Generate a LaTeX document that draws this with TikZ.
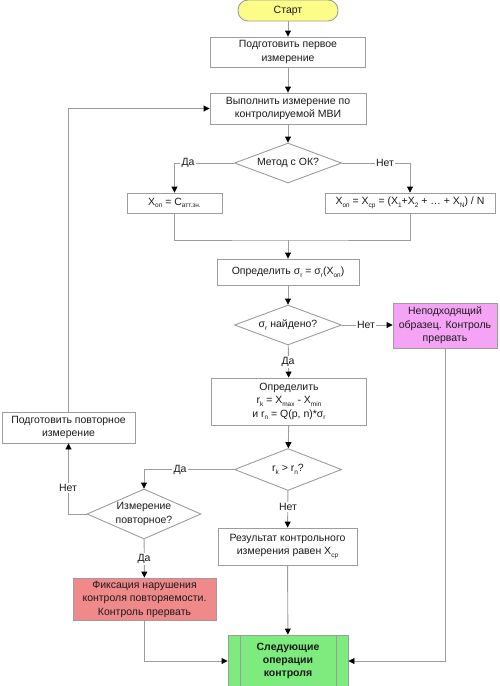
\documentclass[tikz,border=0pt]{standalone}
\usepackage{fontspec}
\setmainfont{Liberation Sans}
\usetikzlibrary{arrows.meta,shapes.geometric,calc}
\definecolor{linec}{HTML}{9C9C9C}
\definecolor{txtc}{HTML}{1A1A1A}
\definecolor{yel}{HTML}{FCFC88}
\definecolor{mag}{HTML}{F5A3F5}
\definecolor{redf}{HTML}{F08A8A}
\definecolor{grn}{HTML}{7DEB7D}
\newcommand\lsub[1]{\raisebox{-0.45ex}{\fontsize{6.5}{6.5}\selectfont #1}}
\tikzset{
  every node/.style={text=txtc},
  stepbox/.style={draw=linec, line width=0.9pt, fill=white, inner sep=0pt, align=center,
    font=\fontsize{10.5}{13.5}\selectfont},
  dia/.style={diamond, draw=linec, line width=0.9pt, fill=white, inner sep=0pt},
  dlab/.style={align=center, font=\fontsize{10.5}{13.5}\selectfont},
  plain/.style={draw=linec, line width=0.9pt},
  conn/.style={draw=linec, line width=0.9pt, -{Triangle[length=6pt,width=6pt,color=black]}},
  lbl/.style={fill=white, inner sep=1.2pt, font=\fontsize{10.5}{12}\selectfont}
}
\begin{document}
\begin{tikzpicture}[x=1pt,y=-1pt]
\useasboundingbox (0,0) rectangle (500,686);
% nodes
\node[stepbox, fill=yel, rounded corners=10pt, minimum width=100, minimum height=21] (start) at (288,10.5) {Старт};
\node[stepbox, minimum width=155, minimum height=30] (b1) at (288,52) {Подготовить первое\\измерение};
\node[stepbox, minimum width=156, minimum height=31] (b2) at (288,108.5) {Выполнить измерение по\\контролируемой МВИ};
\node[dia, minimum width=107, minimum height=40, label={[dlab]center:Метод с ОК?}] (d1) at (288,163) {};
\node[stepbox, minimum width=95, minimum height=20] (bl) at (174.5,203) {X\lsub{оп} = C\lsub{атт.зн.}};
\node[stepbox, minimum width=170, minimum height=20] (br) at (410,203) {X\lsub{оп} = X\lsub{ср} = (X\lsub{1}+X\lsub{2} + … + X\lsub{N}) / N};
\coordinate (m) at (288,240);
\node[stepbox, minimum width=142, minimum height=26] (op1) at (288,272) {Определить σ\lsub{r} = σ\lsub{r}(X\lsub{оп})};
\node[dia, minimum width=107, minimum height=40, label={[dlab]center:σ\lsub{r} найдено?}] (d2) at (288,325) {};
\node[stepbox, fill=mag, minimum width=104, minimum height=45] (mg) at (445,325.5) {Неподходящий\\образец. Контроль\\прервать};
\node[stepbox, minimum width=155, minimum height=47] (op2) at (289,401.5) {Определить\\r\lsub{k} = X\lsub{max} - X\lsub{min}\\и r\lsub{n} = Q(p, n)*σ\lsub{r}};
\node[dia, minimum width=107, minimum height=42, label={[dlab]center:r\lsub{k} > r\lsub{n}?}] (d3) at (288,469.5) {};
\node[stepbox, minimum width=139, minimum height=37] (res) at (287.5,546.5) {Результат контрольного\\измерения равен X\lsub{ср}};
\node[dia, minimum width=114, minimum height=50, label={[dlab]center:Измерение\\повторное?}] (d4) at (144,514) {};
\node[stepbox, minimum width=133, minimum height=31] (prep) at (68.5,427.5) {Подготовить повторное\\измерение};
\node[stepbox, fill=redf, minimum width=143, minimum height=42] (red) at (144.5,599) {Фиксация нарушения\\контроля повторяемости.\\Контроль прервать};
\node[stepbox, fill=grn, minimum width=120, minimum height=52, font=\bfseries\fontsize{10.5}{13}\selectfont] (green) at (288,661) {Следующие\\операции\\контроля};
\draw[plain] ($(green.north west)+(13,0)$) -- ($(green.south west)+(13,0)$);
\draw[plain] ($(green.north east)+(-12,0)$) -- ($(green.south east)+(-12,0)$);
% connectors
\draw[conn] (start) -- (b1);
\draw[conn] (b1) -- (b2);
\draw[conn] (b2) -- (d1);
\draw[conn] (d1.west) -| (bl.north);
\draw[conn] (d1.east) -| (br.north);
\draw[plain] (bl.south) |- (m) -| (br.south);
\draw[conn] (m) -- (op1);
\draw[conn] (op1) -- (d2);
\draw[conn] (d2.east) -- (d2.east -| mg.west);
\draw[conn] (d2) -- (op2);
\draw[conn] (op2) -- (d3);
\draw[conn] (d3.west) -| (d4.north);
\draw[conn] (d3) -- (res);
\draw[conn] (d4.west) -| (prep.south);
\draw[conn] (prep.north) |- (b2.west);
\draw[conn] (d4) -- (red);
\draw[conn] (res) -- (green);
\draw[conn] (red.south) |- (green.west);
\draw[conn] (mg.south) |- (green.east);
% labels
\node[lbl] (l1) at (188,163) {Да};
\node[lbl] (l2) at (385,163) {Нет};
\node[lbl] (l3) at (366,325) {Нет};
\node[lbl] (l4) at (288,362) {Да};
\node[lbl] (l5) at (180,470) {Да};
\node[lbl] (l6) at (288,507) {Нет};
\node[lbl] (l7) at (68,488) {Нет};
\node[lbl] (l8) at (144,559) {Да};
\end{tikzpicture}
\end{document}
